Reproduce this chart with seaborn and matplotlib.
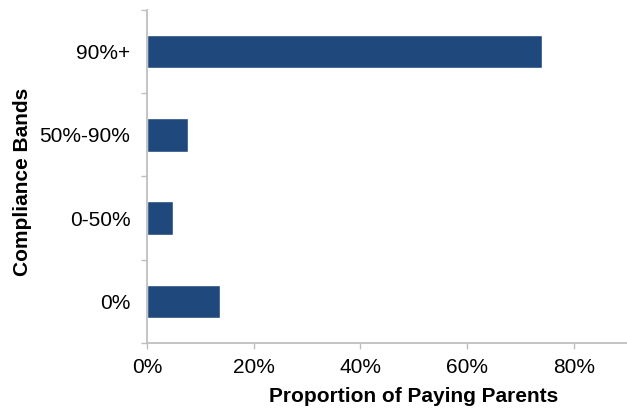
import matplotlib
matplotlib.use("Agg")
import matplotlib.pyplot as plt
import seaborn as sns
import pandas as pd
from matplotlib.ticker import FuncFormatter, FixedLocator

categories = ["90%+", "50%-90%", "0-50%", "0%"]
values = [74.0, 7.6, 4.9, 13.6]
xticks = [0, 20, 40, 60, 80]

sns.set_style("white")
plt.rcParams['font.family'] = ['Liberation Sans', 'DejaVu Sans']
plt.rcParams['text.color'] = 'black'
plt.rcParams['axes.labelcolor'] = 'black'
plt.rcParams['xtick.labelcolor'] = 'black'
plt.rcParams['ytick.labelcolor'] = 'black'

df = pd.DataFrame({"band": categories, "share": values})

fig = plt.figure(figsize=(6.27, 4.11), dpi=100)
ax = fig.add_axes([147/627, 1 - 343/411, 480/627, 333/411])

sns.barplot(data=df, y="band", x="share", orient="h", color="#1F497D",
            saturation=1, width=0.4, ax=ax)

ax.set_xlim(0, 90)
ax.set_ylim(3.5, -0.5)
ax.xaxis.set_major_locator(FixedLocator(xticks))
ax.xaxis.set_major_formatter(FuncFormatter(lambda v, p: f"{v:.0f}%"))

gray = "#BFBFBF"
for s in ["top", "right"]:
    ax.spines[s].set_visible(False)
for s in ["left", "bottom"]:
    ax.spines[s].set_color(gray)
    ax.spines[s].set_linewidth(1.3)

ax.tick_params(axis="x", which="major", direction="out", length=4.5, width=1,
               color=gray, labelsize=15, pad=6, bottom=True, labelcolor="black")
ax.tick_params(axis="y", which="major", length=0, labelsize=15, pad=12,
               labelcolor="black")
ax.yaxis.set_minor_locator(FixedLocator([-0.5, 0.5, 1.5, 2.5, 3.5]))
ax.tick_params(axis="y", which="minor", direction="out", length=4.5, width=1,
               color=gray, left=True)

ax.set_xlabel("Proportion of Paying Parents", fontsize=15, fontweight="bold",
              color="black")
ax.set_ylabel("Compliance Bands", fontsize=15, fontweight="bold", color="black")
ax.xaxis.set_label_coords(0.556, -0.162)
ax.xaxis.label.set_va("center")
ax.yaxis.set_label_coords(-0.26, 0.485)
ax.yaxis.label.set_va("center")

fig.savefig("out.png", dpi=100)
